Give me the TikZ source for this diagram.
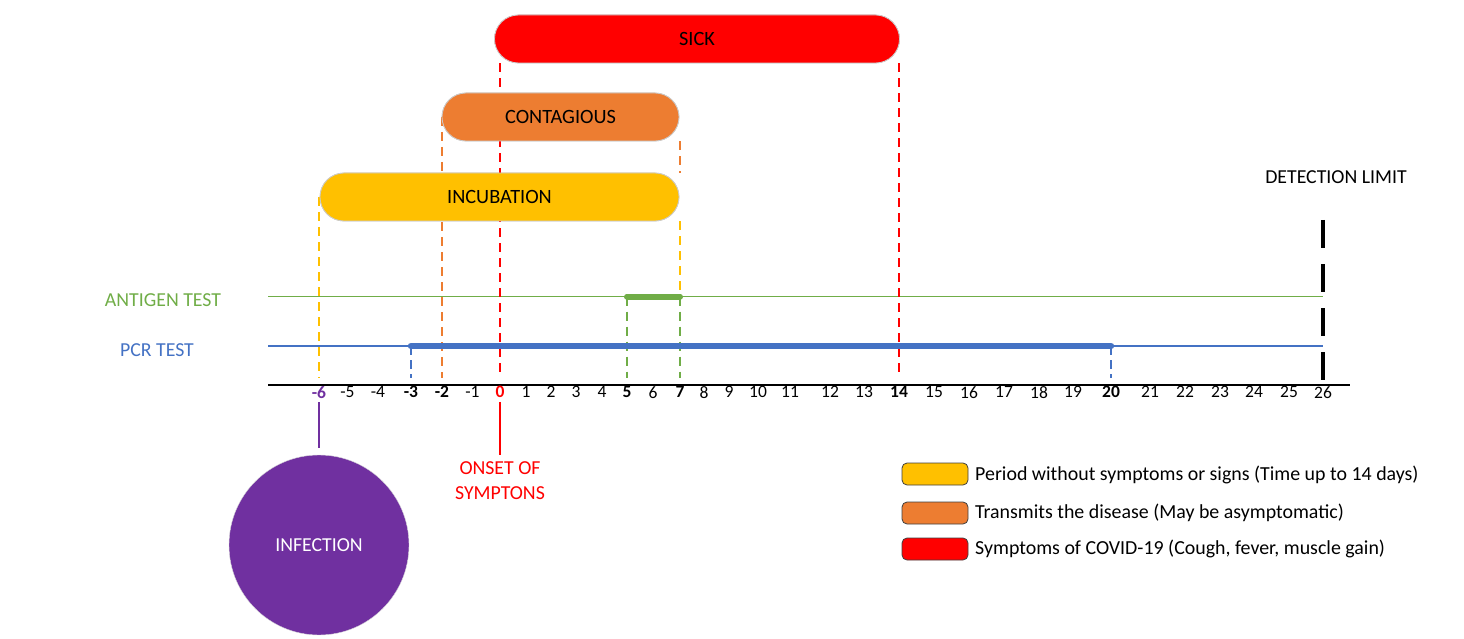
\documentclass[tikz,border=0pt]{standalone}
\usepackage{fontspec}
\setmainfont{Carlito}
\definecolor{cgreen}{HTML}{70AD47}
\definecolor{cblue}{HTML}{4472C4}
\definecolor{corange}{HTML}{ED7D31}
\definecolor{cyellow}{HTML}{FFC000}
\definecolor{cred}{HTML}{FF0000}
\definecolor{cpurple}{HTML}{7030A0}
\tikzset{
  pill/.style={draw=black!20, line width=0.8pt, rounded corners=24pt, minimum height=48pt, inner sep=0pt, font=\fontsize{20.3}{24}\selectfont},
  dl/.style={line width=1.3pt, dash pattern=on 9pt off 6pt},
  tick/.style={font=\fontsize{17.5}{19}\selectfont, inner sep=0pt, anchor=north},
  btick/.style={tick, font=\fontsize{17.5}{19}\selectfont\bfseries},
  lbl/.style={font=\fontsize{19.8}{24}\selectfont, inner sep=0pt},
  swatch/.style={draw=black!75, line width=0.8pt, rounded corners=5pt, minimum width=66pt, minimum height=22pt, inner sep=0pt},
  legtxt/.style={font=\fontsize{19.9}{24}\selectfont, inner sep=0pt, anchor=west}
}
\begin{document}
\begin{tikzpicture}[x=1pt,y=-1pt]
\useasboundingbox (0,0) rectangle (1464,639);
% axis coordinates (on axis)
\foreach \n/\x in {m6/319,m5/347.5,m4/378,m3/411,m2/442,m1/472.5,0/500,1/526,2/551,3/576,4/602,5/627,6/653,7/680,8/704,9/729,10/758,11/790,12/830,13/864,14/899,15/934,16/969,17/1004,18/1039,19/1073,20/1111,21/1150,22/1185,23/1220,24/1254,25/1289,26/1323}{
  \coordinate (t\n) at (\x,378);
}
% axis
\coordinate (axL) at (268,385);
\coordinate (axR) at (1350,385);
\draw[line width=1.8pt] (axL) -- (axR);
% tick labels
\foreach \n/\x/\t in {m5/347.5/-5,m4/378/-4,m1/472.5/-1,1/526/1,2/551/2,3/576/3,4/602/4,6/653/6,8/704/8,9/729/9,10/758/10,11/790/11,12/830/12,13/864/13,15/934/15,16/969/16,17/1004/17,18/1039/18,19/1073/19,21/1150/21,22/1185/22,23/1220/23,24/1254/24,25/1289/25,26/1323/26}{
  \node[tick] (lb\n) at (\x,386) {\t};
}
\foreach \n/\x/\t in {m3/411/-3,m2/442/-2,5/627/5,7/680/7,14/899/14,20/1111/20}{
  \node[btick] (lb\n) at (\x,386) {\t};
}
\node[btick, text=cpurple] (lbm6) at (319,386) {-6};
\node[btick, text=cred] (lb0) at (500,386) {0};
% test lines
\coordinate (agL) at (268,296.5);
\coordinate (pcL) at (268,346);
\coordinate (ag5) at (627,296.5);
\coordinate (ag7) at (680,296.5);
\coordinate (agR) at (1323,296.5);
\coordinate (pc3) at (411,346);
\coordinate (pc20) at (1111,346);
\coordinate (pcR) at (1323,346);
\draw[cgreen, line width=1.5pt] (agL) -- (agR);
\draw[cblue, line width=1.5pt] (pcL) -- (pcR);
\node[lbl, text=cgreen] (agt) at (163,300) {ANTIGEN TEST};
\node[lbl, text=cblue] (pct) at (157,350) {PCR TEST};
% pills (named first for anchors)
\path
  (697,39) node[pill, fill=cred, minimum width=405pt] (sick) {}
  (560.5,117) node[pill, fill=corange, minimum width=237pt] (cont) {}
  (499.5,197) node[pill, fill=cyellow, minimum width=359pt] (inc) {};
% dashed guides
\draw[dl, cred] (sick.south -| t0) -- (t0);
\draw[dl, cred] (sick.south -| t14) -- (t14);
\draw[dl, corange] (cont.center -| tm2) -- (tm2);
\draw[dl, corange] (cont.south -| t7) -- (inc.north -| t7);
\draw[dl, cyellow] (inc.center -| tm6) -- (tm6);
\draw[dl, cyellow] (inc.south -| t7) -- (ag7);
\draw[dl, cgreen] (ag7) -- (t7);
\draw[dl, cgreen] (ag5) -- (t5);
\draw[dl, cblue, dash pattern=on 9pt off 5pt] (pc3) -- (tm3);
\draw[dl, cblue, dash pattern=on 9pt off 5pt] (pc20) -- (t20);
% thick bars
\draw[cgreen, line width=6pt, line cap=round] (ag5) -- (ag7);
\draw[cblue, line width=6.5pt, line cap=round] (pc3) -- (pc20);
% pills redrawn on top
\node[pill, fill=cred, minimum width=405pt] at (sick) {SICK};
\node[pill, fill=corange, minimum width=237pt] at (cont) {CONTAGIOUS};
\node[pill, fill=cyellow, minimum width=359pt] at (inc) {INCUBATION};
% detection limit
\coordinate (dlTop) at (1323,220);
\draw[line width=4.5pt, dash pattern=on 28pt off 16pt] (dlTop) -- (t26 |- 0,380);
\node[lbl, text=black] (dlab) at (1336,177) {DETECTION LIMIT};
% infection
\node[circle, fill=cpurple, draw=black!15, minimum size=180pt, inner sep=0pt, text=white, font=\fontsize{19.8}{24}\selectfont] (inf) at (319,545) {INFECTION};
\draw[cpurple, line width=1.5pt] ([yshift=-4pt]lbm6.south) -- ([yshift=7pt]inf.north);
% onset
\node[lbl, text=cred, align=center, font=\fontsize{19.8}{25}\selectfont] (onset) at (500,481) {ONSET OF\\SYMPTONS};
\draw[cred, line width=1.5pt] ([yshift=-4pt]lb0.south) -- ([yshift=7pt]onset.north);
% legend
\node[swatch, fill=cyellow] (s1) at (935,474) {};
\node[swatch, fill=corange] (s2) at (935,513) {};
\node[swatch, fill=cred] (s3) at (935,549) {};
\node[legtxt] (l1) at (975,475) {Period without symptoms or signs (Time up to 14 days)};
\node[legtxt] (l2) at (975,513) {Transmits the disease (May be asymptomatic)};
\node[legtxt] (l3) at (975,549) {Symptoms of COVID-19 (Cough, fever, muscle gain)};
\end{tikzpicture}
\end{document}
